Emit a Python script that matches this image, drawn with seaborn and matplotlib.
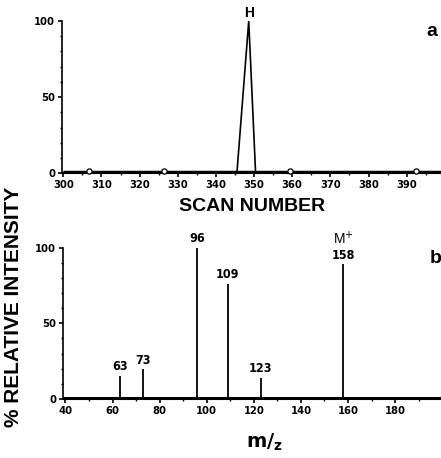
import matplotlib.pyplot as plt
import seaborn as sns
import pandas as pd
from matplotlib.ticker import MultipleLocator

# --- data: (a) reconstructed ion chromatogram ---
scan = [300, 345.5, 348.6, 350.4, 399]
tic = [0, 0, 100, 0, 0]
marker_scans = [306.7, 326.5, 359.5, 392.5]
marker_vals = [1.5, 1.5, 1.5, 1.5]
peak_label = "H"

# --- data: (b) mass spectrum ---
mz = [63, 73, 96, 109, 123, 158]
rel_int = [15, 19.5, 100, 76, 14, 89]
mz_labels = ["63", "73", "96", "109", "123", "158"]

sns.set_style("ticks", {"text.color": "black", "axes.edgecolor": "black",
                        "xtick.color": "black", "ytick.color": "black",
                        "axes.labelcolor": "black"})
plt.rcParams["mathtext.fontset"] = "dejavusans"

narrow = dict(fontfamily="DejaVu Sans", fontstretch="condensed", fontweight="bold")
lab_font = dict(family="Liberation Sans", weight="bold")

fig = plt.figure(figsize=(4.41, 4.58), dpi=100)
ax1 = fig.add_axes([0.141, 0.622, 0.859, 0.332])
ax2 = fig.add_axes([0.143, 0.129, 0.857, 0.330])

# --- panel a ---
chrom = pd.DataFrame({"scan": scan, "tic": tic})
sns.lineplot(data=chrom, x="scan", y="tic", color="black", lw=1.2, ax=ax1)
ax1.plot([300, 399], [0.5, 0.5], color="black", lw=2.5, solid_capstyle="butt")
ax1.scatter(marker_scans, marker_vals, s=14, facecolor="white", edgecolor="black",
            lw=0.9, zorder=3, clip_on=False)
ax1.text(scan[2], 101, peak_label, ha="center", va="bottom", fontsize=10,
         fontfamily="Liberation Sans", fontweight="bold")
ax1.text(0.975, 0.93, "a", transform=ax1.transAxes, fontsize=14,
         fontfamily="Liberation Sans", fontweight="bold", ha="center", va="center")
ax1.set_xlim(299.7, 399)
ax1.set_ylim(0, 100)
ax1.xaxis.set_major_locator(MultipleLocator(10))
ax1.xaxis.set_minor_locator(MultipleLocator(5))
ax1.set_xlabel("SCAN NUMBER", fontsize=14, labelpad=6, **lab_font)
ax1.set_ylabel("")

# --- panel b ---
ax2.vlines(mz, 0, rel_int, color="black", lw=1.3)
ax2.plot([39, 200], [0.4, 0.4], color="black", lw=2.2, solid_capstyle="butt")
for m, v, t in zip(mz, rel_int, mz_labels):
    ax2.annotate(t, (m, v), xytext=(0, 2), textcoords="offset points",
                 ha="center", va="bottom", fontsize=9, **narrow)
ax2.annotate("M$^{+}$", (mz[-1], rel_int[-1]), xytext=(0, 12), textcoords="offset points",
             ha="center", va="bottom", fontsize=10, fontfamily="Liberation Sans")
ax2.text(0.985, 0.93, "b", transform=ax2.transAxes, fontsize=14,
         fontfamily="Liberation Sans", fontweight="bold", ha="center", va="center")
ax2.set_xlim(39, 199.5)
ax2.set_ylim(0, 100)
ax2.xaxis.set_major_locator(MultipleLocator(20))
ax2.xaxis.set_minor_locator(MultipleLocator(10))
ax2.set_xlabel("")
fig.text(0.6, 0.035, r"$\mathbf{m/_{z}}$", fontsize=14, ha="center", va="center")

for ax in (ax1, ax2):
    sns.despine(ax=ax)
    ax.yaxis.set_major_locator(MultipleLocator(50))
    ax.yaxis.set_minor_locator(MultipleLocator(10))
    ax.tick_params(which="major", direction="out", length=3, width=1.2, pad=2)
    ax.tick_params(which="minor", direction="out", length=1.5, width=1)
    ax.spines["left"].set_linewidth(1.2)
    ax.spines["bottom"].set_linewidth(1.5)
    for lab in ax.get_xticklabels() + ax.get_yticklabels():
        lab.set_fontfamily(narrow["fontfamily"])
        lab.set_fontstretch("condensed")
        lab.set_fontweight("bold")
        lab.set_fontsize(8)

fig.text(0.03, 0.33, "% RELATIVE INTENSITY", rotation=90, fontsize=15,
         ha="center", va="center", **lab_font)

fig.savefig("out.png", dpi=100)
